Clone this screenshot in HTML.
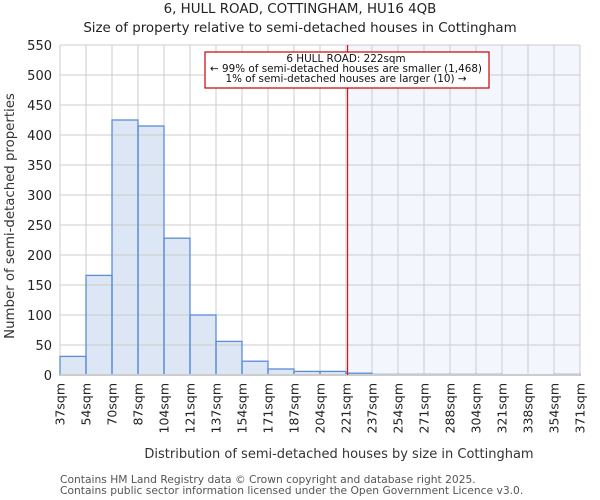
<!DOCTYPE html>
<html><head><meta charset="utf-8"><style>
body{margin:0;background:#fff;}
svg{display:block;font-family:"DejaVu Sans","Liberation Sans",sans-serif;}
</style></head><body>
<svg id="c" width="600" height="500" viewBox="0 0 600 500">
<text x="300" y="13" text-anchor="middle" font-size="13.4" fill="#222">6, HULL ROAD, COTTINGHAM, HU16 4QB</text>
<text x="300" y="32" text-anchor="middle" font-size="13.4" fill="#222">Size of property relative to semi-detached houses in Cottingham</text>
<g id="plot"></g>
<text transform="translate(14,216) rotate(-90)" text-anchor="middle" font-size="13.3" fill="#333">Number of semi-detached properties</text>
<text x="339" y="458" text-anchor="middle" font-size="13" fill="#333">Distribution of semi-detached houses by size in Cottingham</text>
<text x="60" y="483" font-size="10.7" fill="#555">Contains HM Land Registry data © Crown copyright and database right 2025.</text>
<text x="60" y="494" font-size="10.7" fill="#555">Contains public sector information licensed under the Open Government Licence v3.0.</text>
</svg>
<script>
const binLabels=["37sqm","54sqm","70sqm","87sqm","104sqm","121sqm","137sqm","154sqm","171sqm","187sqm","204sqm","221sqm","237sqm","254sqm","271sqm","288sqm","304sqm","321sqm","338sqm","354sqm","371sqm"];
const counts=[31,166,425,415,228,100,56,23,10,6,6,3,1,1,1,1,1,0,0,1];
const yTicks=[0,50,100,150,200,250,300,350,400,450,500,550];
const propertyBinPos=11.06;
const NS="http://www.w3.org/2000/svg";
const L=60,R=580,T=45,B=375,yMax=550;
const nb=counts.length;
const x=i=>L+(R-L)*i/nb;
const y=v=>B-(B-T)*v/yMax;
const g=document.getElementById('plot');
function mk(t,a){const e=document.createElementNS(NS,t);for(const k in a)e.setAttribute(k,a[k]);g.appendChild(e);return e;}
const px=x(propertyBinPos);
let e=mk('rect',{x:px,y:T,width:R-px,height:B-T,fill:'#f3f6fd'});


counts.forEach((c,i)=>{
 if(c<=0)return;
 e=mk('rect',{x:x(i),y:y(c),width:x(i+1)-x(i),height:B-y(c),fill:'#dde6f4'});
 
 
});
for(const t of yTicks){
 e=mk('line',{x1:L,x2:R,y1:y(t),y2:y(t),stroke:'#ccc','stroke-width':1});
 
 
 e=mk('text',{x:L-8,y:y(t)+5,'text-anchor':'end','font-size':'13',fill:'#222'});
 e.textContent=t;
 
 
}
for(let i=0;i<=nb;i++){
 e=mk('line',{x1:x(i),x2:x(i),y1:T,y2:B,stroke:'#ccc','stroke-width':1});
 
 
 e=mk('text',{transform:`translate(${x(i)+4.5},${B+8}) rotate(-90)`,'text-anchor':'end','font-size':'12.5',fill:'#222'});
 e.textContent=binLabels[i];
 
 
}
counts.forEach((c,i)=>{
 if(c<=0)return;
 e=mk('rect',{x:x(i),y:y(c),width:x(i+1)-x(i),height:B-y(c),fill:'none',stroke:'#5b8dd6','stroke-width':1.3});
 
 
});
e=mk('line',{x1:L,x2:R,y1:B,y2:B,stroke:'#ccc','stroke-width':2});


e=mk('line',{x1:px,x2:px,y1:T,y2:B,stroke:'#dd1111','stroke-width':1.2});


e=mk('rect',{x:205,y:52,width:284,height:36,fill:'#fff',stroke:'#cc0000','stroke-width':1.2});


const ann=["6 HULL ROAD: 222sqm","\u2190 99% of semi-detached houses are smaller (1,468)","1% of semi-detached houses are larger (10) \u2192"];
ann.forEach((s,i)=>{
 e=mk('text',{x:346,y:62+i*10,'text-anchor':'middle','font-size':'10.4',fill:'#111'});
 e.textContent=s;
 
 
});
</script>
</body></html>
